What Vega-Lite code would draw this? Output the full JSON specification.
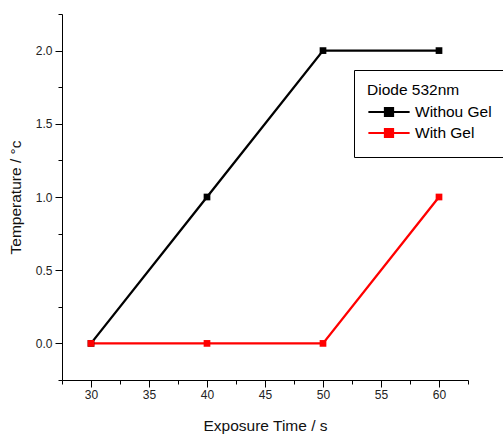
{
  "$schema": "https://vega.github.io/schema/vega-lite/v6.json",
  "width": 406,
  "height": 366,
  "autosize": "none",
  "padding": {"left": 62, "top": 14, "right": 35, "bottom": 55},
  "background": "white",
  "config": {
    "view": {"stroke": null},
    "font": "Liberation Sans",
    "axis": {
      "domainColor": "black",
      "tickColor": "black",
      "labelColor": "#222",
      "labelFont": "Liberation Sans",
      "labelFontSize": 12,
      "titleFont": "Liberation Sans",
      "titleFontSize": 15.5,
      "titleFontWeight": "normal",
      "titleColor": "#111",
      "grid": false
    }
  },
  "data": {
    "values": [
      {"time": 30, "temp": 0, "series": "Withou Gel"},
      {"time": 40, "temp": 1, "series": "Withou Gel"},
      {"time": 50, "temp": 2, "series": "Withou Gel"},
      {"time": 60, "temp": 2, "series": "Withou Gel"},
      {"time": 30, "temp": 0, "series": "With Gel"},
      {"time": 40, "temp": 0, "series": "With Gel"},
      {"time": 50, "temp": 0, "series": "With Gel"},
      {"time": 60, "temp": 1, "series": "With Gel"}
    ]
  },
  "encoding": {
    "x": {
      "field": "time", "type": "quantitative",
      "scale": {"domain": [27.5, 62.5], "nice": false, "zero": false},
      "axis": {
        "title": "Exposure Time / s",
        "values": [27.5, 30, 32.5, 35, 37.5, 40, 42.5, 45, 47.5, 50, 52.5, 55, 57.5, 60, 62.5],
        "labelExpr": "datum.value % 5 === 0 ? format(datum.value, 'd') : ''",
        "tickSize": {"condition": {"test": "datum.value % 5 === 0", "value": 7}, "value": 4},
        "labelPadding": 2,
        "titlePadding": 18
      }
    },
    "y": {
      "field": "temp", "type": "quantitative",
      "scale": {"domain": [-0.25, 2.25], "nice": false, "zero": false},
      "axis": {
        "title": "Temperature / °c",
        "values": [-0.25, 0, 0.25, 0.5, 0.75, 1, 1.25, 1.5, 1.75, 2, 2.25],
        "labelExpr": "abs(datum.value * 2 - round(datum.value * 2)) < 0.01 ? format(datum.value, '.1f') : ''",
        "tickSize": {"condition": {"test": "abs(datum.value * 2 - round(datum.value * 2)) < 0.01", "value": 7}, "value": 4},
        "labelPadding": 3,
        "titlePadding": 12
      }
    },
    "color": {
      "field": "series", "type": "nominal",
      "scale": {"domain": ["Withou Gel", "With Gel"], "range": ["#000000", "#ff0000"]},
      "legend": {
        "title": "Diode 532nm",
        "orient": "none",
        "legendX": 292,
        "legendY": 56,
        "direction": "vertical",
        "strokeColor": "black",
        "fillColor": "white",
        "padding": 13,
        "titleFont": "Liberation Sans",
        "titleFontSize": 15.5,
        "titleFontWeight": "normal",
        "titleColor": "black",
        "titlePadding": 3,
        "labelFont": "Liberation Sans",
        "labelFontSize": 15.5,
        "labelColor": "black",
        "labelOffset": 4,
        "rowPadding": 0,
        "clipHeight": 21,
        "symbolType": "M-1,0H1M-0.2,-0.2H0.2V0.2H-0.2Z",
        "symbolSize": 1700,
        "symbolStrokeWidth": 2,
        "symbolOpacity": 1,
        "offset": 0,
        "encode": {
          "symbols": {
            "update": {
              "stroke": {"scale": "color", "field": "value"},
              "fill": {"scale": "color", "field": "value"},
              "strokeWidth": {"value": 2},
              "opacity": {"value": 1}
            }
          }
        }
      }
    }
  },
  "layer": [
    {
      "mark": {"type": "line", "strokeWidth": 2.3}
    },
    {
      "mark": {"type": "point", "shape": "square", "filled": true, "size": 45, "opacity": 1}
    }
  ]
}
